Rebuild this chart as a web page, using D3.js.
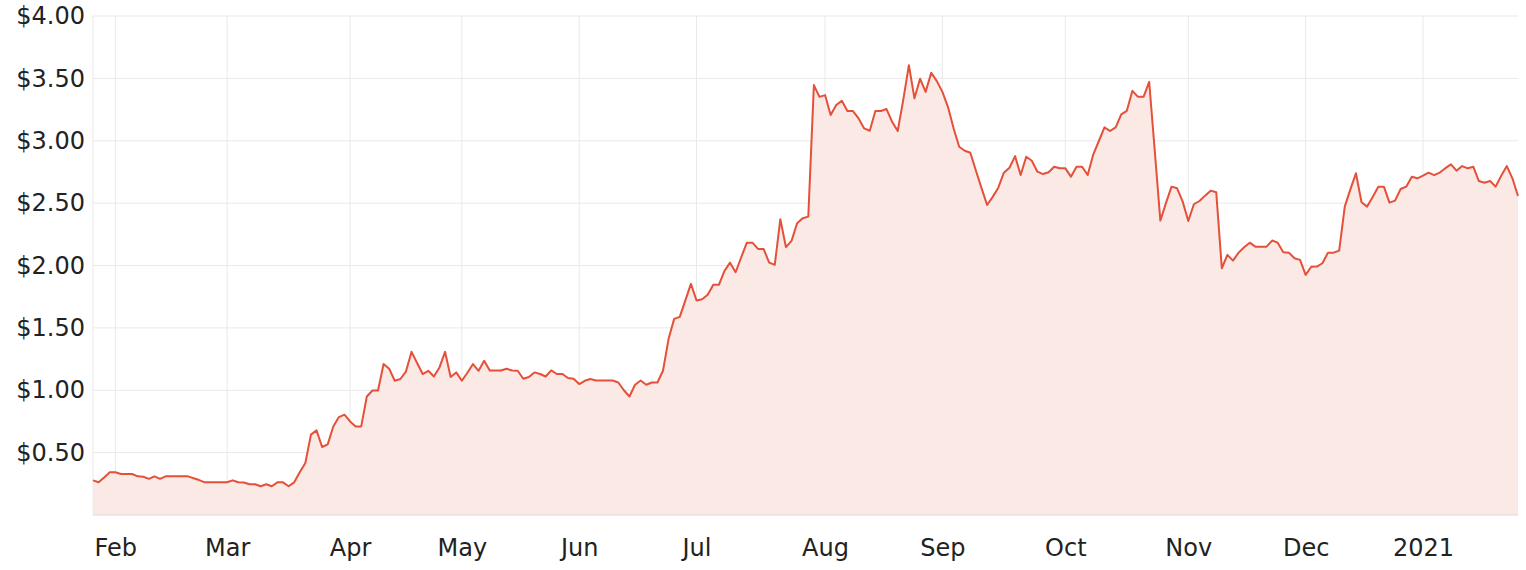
<!DOCTYPE html>
<html>
<head>
<meta charset="utf-8">
<script src="https://cdn.jsdelivr.net/npm/d3@7"></script>
<style>
  html, body { margin: 0; padding: 0; background: #ffffff; }
  svg { display: block; }
  .tick text { font-family: "DejaVu Sans", sans-serif; }
</style>
</head>
<body>
<svg id="chart" width="1526" height="570"></svg>
<script>
// ---- data ----
// Trading calendar: first day, last day and exchange holidays
const firstDay = "2020-01-28";
const lastDay = "2021-01-28";
const holidays = ["2020-04-10", "2020-04-13", "2020-06-08", "2020-12-25", "2020-12-28", "2021-01-01", "2021-01-26"];

// Closing price for each trading day, in order
const prices = [
  0.278, 0.262, 0.30, 0.342, 0.342, 0.329, 0.329, 0.329, 0.31, 0.307,
  0.29, 0.31, 0.29, 0.31, 0.31, 0.31, 0.31, 0.31, 0.295, 0.28,
  0.262, 0.262, 0.262, 0.262, 0.262, 0.278, 0.262, 0.26, 0.246, 0.246,
  0.23, 0.246, 0.23, 0.262, 0.262, 0.23, 0.262, 0.342, 0.417, 0.644,
  0.678, 0.545, 0.566, 0.71, 0.785, 0.804, 0.75, 0.71, 0.71, 0.95,
  0.998, 0.998, 1.21, 1.172, 1.076, 1.09, 1.15, 1.308, 1.218, 1.13,
  1.156, 1.11, 1.183, 1.308, 1.106, 1.143, 1.076, 1.14, 1.21, 1.156,
  1.236, 1.159, 1.159, 1.159, 1.172, 1.159, 1.156, 1.092, 1.106, 1.143,
  1.13, 1.11, 1.159, 1.13, 1.13, 1.098, 1.092, 1.05, 1.076, 1.09,
  1.078, 1.078, 1.078, 1.078, 1.062, 1.0, 0.95, 1.044, 1.078, 1.044,
  1.062, 1.062, 1.156, 1.412, 1.572, 1.588, 1.72, 1.853, 1.719, 1.73,
  1.765, 1.845, 1.845, 1.957, 2.023, 1.946, 2.066, 2.183, 2.183, 2.133,
  2.133, 2.023, 2.005, 2.371, 2.147, 2.197, 2.339, 2.379, 2.392, 3.446,
  3.352, 3.366, 3.206, 3.286, 3.32, 3.238, 3.238, 3.179, 3.099, 3.08,
  3.238, 3.238, 3.254, 3.152, 3.078, 3.33, 3.606, 3.34, 3.497, 3.392,
  3.545, 3.478, 3.392, 3.27, 3.10, 2.952, 2.92, 2.904, 2.76, 2.62,
  2.485, 2.55, 2.624, 2.744, 2.784, 2.877, 2.725, 2.872, 2.84, 2.752,
  2.733, 2.747, 2.792, 2.779, 2.779, 2.712, 2.792, 2.792, 2.725, 2.891,
  2.998, 3.107, 3.078, 3.107, 3.211, 3.24, 3.4, 3.352, 3.352, 3.472,
  2.92, 2.36, 2.50, 2.632, 2.619, 2.512, 2.357, 2.491, 2.517, 2.56,
  2.6, 2.587, 1.978, 2.085, 2.039, 2.103, 2.147, 2.183, 2.151, 2.151,
  2.151, 2.2, 2.183, 2.107, 2.103, 2.058, 2.045, 1.925, 1.99, 1.991,
  2.018, 2.103, 2.103, 2.119, 2.472, 2.61, 2.739, 2.507, 2.472, 2.55,
  2.632, 2.632, 2.504, 2.52, 2.613, 2.632, 2.712, 2.699, 2.72, 2.744,
  2.725, 2.745, 2.78, 2.811, 2.76, 2.797, 2.779, 2.792, 2.677, 2.664,
  2.677, 2.632, 2.72, 2.797, 2.699, 2.557
];

const yTicks = [0.5, 1.0, 1.5, 2.0, 2.5, 3.0, 3.5, 4.0];
const yMax = 4.0;

// ---- build trading dates ----
const parse = d3.utcParse("%Y-%m-%d");
const fmtKey = d3.utcFormat("%Y-%m-%d");
const holidaySet = new Set(holidays);
const dates = d3.utcDay.range(parse(firstDay), d3.utcDay.offset(parse(lastDay), 1))
  .filter(d => d.getUTCDay() !== 0 && d.getUTCDay() !== 6 && !holidaySet.has(fmtKey(d)));
const data = dates.slice(0, prices.length).map((d, i) => ({ date: d, value: prices[i] }));

// month ticks: first trading day of each month (skip January 2020)
const monthTicks = dates.filter((d, i) => i > 0 && d.getUTCMonth() !== dates[i - 1].getUTCMonth());
const fmtMonth = d => d.getUTCMonth() === 0 ? d3.utcFormat("%Y")(d) : d3.utcFormat("%b")(d);

// ---- layout ----
const svg = d3.select("#chart");
const margin = { left: 93, right: 8, top: 16, bottom: 55 };
const W = 1526, H = 570;
const x = d3.scalePoint().domain(data.map(d => +d.date)).range([margin.left, W - margin.right]);
const y = d3.scaleLinear().domain([0, yMax]).range([H - margin.bottom, margin.top]);

// grid
const grid = svg.append("g");
grid.selectAll("line.h").data(yTicks).join("line")
  .attr("x1", margin.left).attr("x2", W - margin.right)
  .attr("y1", d => y(d)).attr("y2", d => y(d))
  .attr("stroke", "#e9e9e9").attr("stroke-width", 1);
grid.selectAll("line.v").data(monthTicks).join("line")
  .attr("x1", d => x(+d)).attr("x2", d => x(+d))
  .attr("y1", margin.top).attr("y2", H - margin.bottom)
  .attr("stroke", "#e9e9e9").attr("stroke-width", 1);
grid.append("line")
  .attr("x1", margin.left).attr("x2", margin.left)
  .attr("y1", margin.top).attr("y2", H - margin.bottom)
  .attr("stroke", "#e9e9e9");

// area + line
const area = d3.area().x(d => x(+d.date)).y0(y(0)).y1(d => y(d.value));
const line = d3.line().x(d => x(+d.date)).y(d => y(d.value));
svg.append("path").datum(data).attr("d", area).attr("fill", "#fbe9e6");
svg.append("path").datum(data).attr("d", line)
  .attr("fill", "none").attr("stroke", "#e4503a").attr("stroke-width", 2).attr("stroke-linejoin", "round");

// bottom line
svg.append("line")
  .attr("x1", margin.left).attr("x2", W - margin.right)
  .attr("y1", y(0)).attr("y2", y(0))
  .attr("stroke", "#e0d6d4");

// axes
const yAxis = d3.axisLeft(y).tickValues(yTicks).tickFormat(d => "$" + d3.format(".2f")(d)).tickSize(0).tickPadding(8);
const gy = svg.append("g").attr("transform", `translate(${margin.left},0)`).call(yAxis);
gy.select(".domain").remove();
gy.selectAll("text").attr("font-size", 24).attr("fill", "#222");

const xAxis = d3.axisBottom(x).tickValues(monthTicks.map(d => +d)).tickFormat(v => fmtMonth(new Date(v))).tickSize(0).tickPadding(24);
const gx = svg.append("g").attr("transform", `translate(0,${H - margin.bottom})`).call(xAxis);
gx.select(".domain").remove();
gx.selectAll("text").attr("font-size", 24).attr("fill", "#222");
</script>
</body>
</html>
